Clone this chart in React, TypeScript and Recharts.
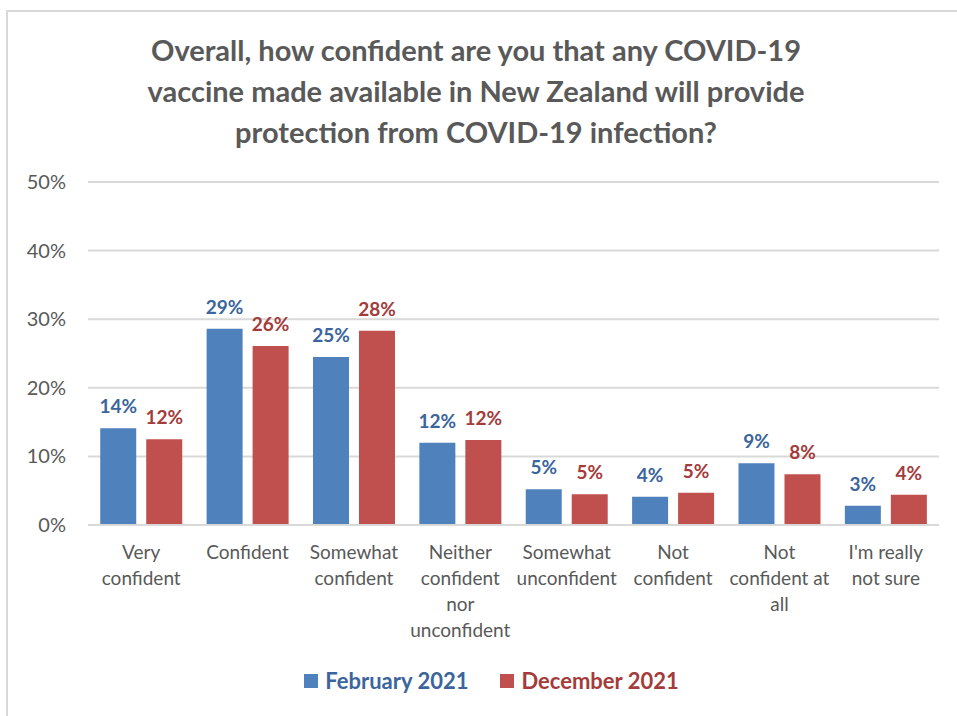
import { Bar, BarChart, CartesianGrid, LabelList, XAxis, YAxis } from "recharts";

const categories = [
  "Very confident",
  "Confident",
  "Somewhat confident",
  "Neither confident nor unconfident",
  "Somewhat unconfident",
  "Not confident",
  "Not confident at all",
  "I'm really not sure",
];

// how Excel wrapped the category names
const tickLines = [
  ["Very", "confident"],
  ["Confident"],
  ["Somewhat", "confident"],
  ["Neither", "confident", "nor", "unconfident"],
  ["Somewhat", "unconfident"],
  ["Not", "confident"],
  ["Not", "confident at", "all"],
  ["I'm really", "not sure"],
];

// bar heights (%), labels as printed
const feb2021 = [14.1, 28.6, 24.5, 12.0, 5.2, 4.1, 9.0, 2.8];
const dec2021 = [12.5, 26.1, 28.3, 12.4, 4.5, 4.7, 7.4, 4.4];
const feb2021Labels = ["14%", "29%", "25%", "12%", "5%", "4%", "9%", "3%"];
const dec2021Labels = ["12%", "26%", "28%", "12%", "5%", "5%", "8%", "4%"];
const yTicks = [0, 10, 20, 30, 40, 50];

const FONT = 'Lato, "Open Sans", sans-serif';
const GREY = "#595959";
const BLUE = "#4F81BD";
const RED = "#C0504D";
const BLUE_TEXT = "#3B659C";
const RED_TEXT = "#A33C3A";

const data = categories.map((c, i) => ({
  name: c,
  feb: feb2021[i],
  dec: dec2021[i],
}));

function XTick({ x, y, payload }: any) {
  const lines = tickLines[payload.index] ?? [payload.value];
  return (
    <text x={x} y={y} textAnchor="middle" fill={GREY} fontSize={19} fontFamily={FONT}>
      {lines.map((l, i) => (
        <tspan key={i} x={x} y={y + 26 + i * 26}>
          {l}
        </tspan>
      ))}
    </text>
  );
}

function YTick({ y, payload }: any) {
  return (
    <text x={66} y={y + 7} textAnchor="end" fill={GREY} fontSize={20} fontFamily={FONT}>
      {payload.value}%
    </text>
  );
}

function makeLabel(labels: string[], color: string) {
  return (props: any) => {
    const { x, y, width, index } = props;
    return (
      <text
        x={x + width / 2}
        y={y - 15}
        textAnchor="middle"
        fill={color}
        fontSize={19}
        fontWeight="bold"
        fontFamily={FONT}
      >
        {labels[index]}
      </text>
    );
  };
}

export default function App() {
  return (
    <div style={{ position: "absolute", left: 0, top: 0, width: 957, height: 716, background: "#fff", overflow: "hidden", fontFamily: FONT }}>
      {/* chart frame: only top and left edges fall inside the picture */}
      <div style={{ position: "absolute", left: 6, top: 10, width: 960, height: 720, borderTop: "2px solid #D9D9D9", borderLeft: "2px solid #D9D9D9" }} />
      <div
        style={{
          position: "absolute",
          left: 0,
          top: 29,
          width: 952,
          textAlign: "center",
          color: GREY,
          fontSize: 29,
          fontWeight: "bold",
          lineHeight: "41px",
        }}
      >
        Overall, how confident are you that any COVID-19
        <br />
        vaccine made available in New Zealand will provide
        <br />
        protection from COVID-19 infection?
      </div>
      <div style={{ position: "absolute", left: 0, top: 0 }}>
        <BarChart
          width={957}
          height={716}
          data={data}
          margin={{ top: 182, right: 18, bottom: 161, left: 0 }}
          barCategoryGap="11.5%"
          barGap={10}
        >
          <CartesianGrid vertical={false} stroke="#D9D9D9" strokeWidth={2} />
          <XAxis
            dataKey="name"
            height={30}
            axisLine={{ stroke: "#D9D9D9", strokeWidth: 2 }}
            tickLine={false}
            tick={<XTick />}
            interval={0}
          />
          <YAxis
            width={88}
            domain={[0, 50]}
            ticks={yTicks}
            axisLine={false}
            tickLine={false}
            tick={<YTick />}
          />
          <Bar dataKey="feb" fill={BLUE} isAnimationActive={false}>
            <LabelList dataKey="feb" content={makeLabel(feb2021Labels, BLUE_TEXT)} />
          </Bar>
          <Bar dataKey="dec" fill={RED} isAnimationActive={false}>
            <LabelList dataKey="dec" content={makeLabel(dec2021Labels, RED_TEXT)} />
          </Bar>
        </BarChart>
      </div>
      <div
        style={{
          position: "absolute",
          left: 13,
          top: 667,
          width: 957,
          display: "flex",
          justifyContent: "center",
          alignItems: "center",
          fontSize: 22,
          fontWeight: "bold",
          lineHeight: "28px",
        }}
      >
        <div style={{ display: "flex", alignItems: "center" }}>
          <span style={{ width: 14, height: 14, background: BLUE, marginRight: 7, display: "inline-block" }} />
          <span style={{ color: BLUE_TEXT }}>February 2021</span>
        </div>
        <div style={{ display: "flex", alignItems: "center", marginLeft: 32 }}>
          <span style={{ width: 14, height: 14, background: RED, marginRight: 7, display: "inline-block" }} />
          <span style={{ color: RED_TEXT }}>December 2021</span>
        </div>
      </div>
    </div>
  );
}
